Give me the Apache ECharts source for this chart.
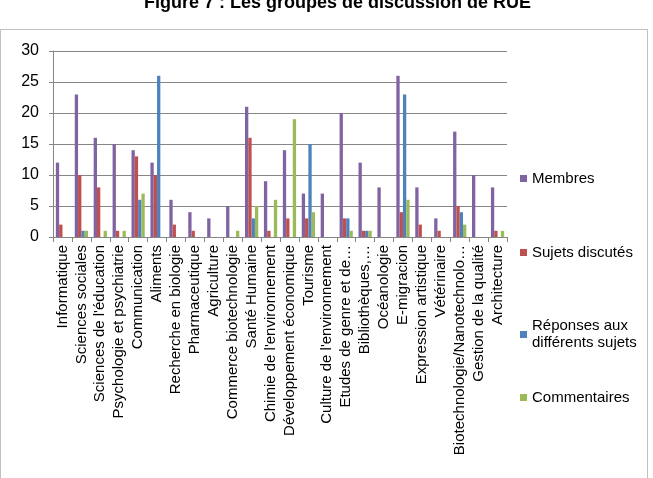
<!DOCTYPE html>
<html>
<head>
<meta charset="utf-8">
<title>Les groupes de discussion de RUE</title>
<script src="https://cdn.jsdelivr.net/npm/echarts@6/dist/echarts.min.js"></script>
<style>
  html, body { margin: 0; padding: 0; background: #fff; }
  #main { width: 653px; height: 478px; }
</style>
</head>
<body>
<div id="main"></div>
<script>
// groupes de discussion
var categories = ['Informatique', 'Sciences sociales', "Sciences de l'éducation", 'Psychologie et psychiatrie',
  'Communication', 'Aliments', 'Recherche en biologie', 'Pharmaceutique', 'Agriculture',
  'Commerce biotechnologie', 'Santé Humaine', "Chimie de l'environnement", 'Développement économique',
  'Tourisme', "Culture de l'environnement", 'Etudes de genre et de…', 'Bibliothèques,…', 'Océanologie',
  'E-migracion', 'Expression artistique', 'Vétérinaire', 'Biotechnologie/Nanotechnolo…',
  'Gestion de la qualité', 'Architecture'];

var membres      = [12, 23, 16, 15, 14, 12, 6, 4, 3, 5, 21, 9, 14, 7, 7, 20, 12, 8, 26, 8, 3, 17, 10, 8];
var sujets       = [2, 10, 8, 1, 13, 10, 2, 1, 0, 0, 16, 1, 3, 3, 0, 3, 1, 0, 4, 2, 1, 5, 0, 1];
var reponses     = [0, 1, 0, 0, 6, 26, 0, 0, 0, 0, 3, 0, 0, 15, 0, 3, 1, 0, 23, 0, 0, 4, 0, 0];
var commentaires = [0, 1, 1, 1, 7, 0, 0, 0, 0, 1, 5, 6, 19, 4, 0, 1, 1, 0, 6, 0, 0, 2, 0, 1];

var yTicks = { min: 0, max: 30, interval: 5 };

var FONT = "'Liberation Sans', Arial, sans-serif";

function legendFor(name, top, pad) {
  return {
    orient: 'vertical',
    left: 520,
    top: top,
    padding: 0,
    itemWidth: 7,
    itemHeight: 7,
    icon: 'rect',
    data: [name],
    selectedMode: false,
    textStyle: { fontFamily: FONT, fontSize: 15, color: '#000', lineHeight: 17, padding: pad || 0 }
  };
}

var myChart = echarts.init(document.getElementById('main'));
myChart.setOption({
  animation: false,
  color: ['#8064A2', '#C0504D', '#4F81BD', '#9BBB59'],
  title: {
    text: 'Figure 7 : Les groupes de discussion de RUE',
    left: 144,
    top: -8,
    padding: 0,
    textStyle: { fontFamily: FONT, fontSize: 18, fontWeight: 'bold', color: '#000', lineHeight: 22 }
  },
  graphic: [{
    type: 'rect',
    shape: { x: 0.5, y: 29.5, width: 647, height: 470 },
    style: { fill: 'none', stroke: '#BFBFBF', lineWidth: 1 },
    silent: true
  }],
  legend: [
    legendFor('Membres', 170),
    legendFor('Sujets discutés', 244),
    legendFor('Réponses aux\ndifférents sujets', 309, [17, 0, 0, 0]),
    legendFor('Commentaires', 389)
  ],
  grid: { left: 53, right: 146, top: 51, bottom: 241, containLabel: false },
  xAxis: {
    type: 'category',
    data: categories,
    axisLine: { lineStyle: { color: '#868686' } },
    axisTick: { show: true, length: 5, lineStyle: { color: '#868686' } },
    axisLabel: {
      interval: 0,
      rotate: 90,
      margin: 8,
      fontFamily: FONT,
      fontSize: 15,
      color: '#000'
    }
  },
  yAxis: {
    type: 'value',
    min: yTicks.min,
    max: yTicks.max,
    interval: yTicks.interval,
    axisLine: { show: true, lineStyle: { color: '#868686' } },
    axisTick: { show: true, length: 4, lineStyle: { color: '#868686' } },
    splitLine: { lineStyle: { color: '#868686' } },
    axisLabel: { fontFamily: FONT, fontSize: 16, color: '#000', margin: 14 }
  },
  series: [
    { name: 'Membres', type: 'bar', data: membres, barGap: '0%', barCategoryGap: '30%' },
    { name: 'Sujets discutés', type: 'bar', data: sujets, barGap: '0%', barCategoryGap: '30%' },
    { name: 'Réponses aux\ndifférents sujets', type: 'bar', data: reponses, barGap: '0%', barCategoryGap: '30%' },
    { name: 'Commentaires', type: 'bar', data: commentaires, barGap: '0%', barCategoryGap: '30%' }
  ]
});
</script>
</body>
</html>
